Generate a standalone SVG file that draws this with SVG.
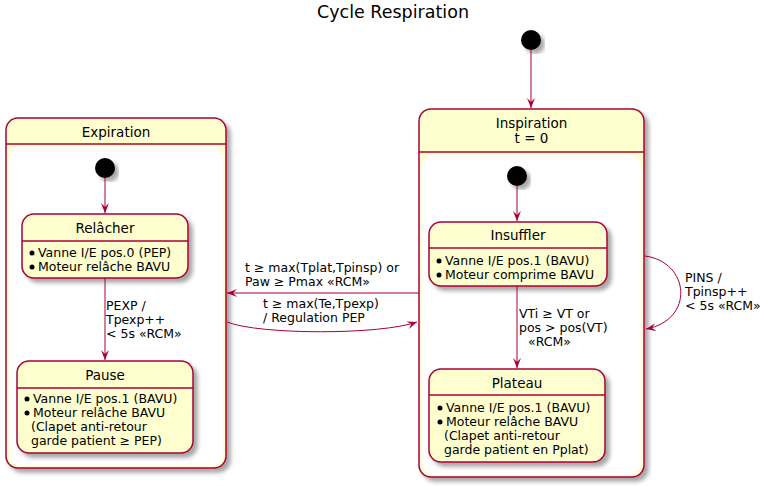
<svg xmlns="http://www.w3.org/2000/svg" width="774" height="486" viewBox="0 0 774 486">
<style>
text{font-family:"DejaVu Sans","Liberation Sans",sans-serif;fill:#000}
.ttl{font-size:17.5px}
.name{font-size:13.5px;text-anchor:middle}
.att{font-size:12.5px}
.lbl{font-size:12.5px}
.st{fill:#FEFECE;stroke:#A80036;stroke-width:1.5}
.div{stroke:#A80036;stroke-width:1.5;fill:none}
.inner{fill:#FFFFFF;stroke:none}
.bul{fill:#000}
.init{fill:#000}
.edge{stroke:#A80036;stroke-width:1;fill:none;marker-end:url(#ah)}
</style>
<defs>
<filter id="sh" x="-20%" y="-20%" width="140%" height="140%">
<feGaussianBlur in="SourceAlpha" stdDeviation="2"/>
<feOffset dx="4" dy="4" result="b"/>
<feComponentTransfer><feFuncA type="linear" slope="0.35"/></feComponentTransfer>
<feMerge><feMergeNode/><feMergeNode in="SourceGraphic"/></feMerge>
</filter>
<marker id="ah" viewBox="0 0 10 8" refX="10" refY="4" markerWidth="10" markerHeight="8" markerUnits="userSpaceOnUse" orient="auto">
<path d="M0,0 L10,4 L0,8 L4,4 Z" fill="#A80036"/>
</marker>
</defs>
<rect width="774" height="486" fill="#FFFFFF"/>
<text class="ttl" x="393" y="18" text-anchor="middle">Cycle Respiration</text>

<g id="start">
<circle class="init" cx="531" cy="40" r="10" filter="url(#sh)"/>
</g>

<g id="Expiration">
<rect class="st" x="6" y="118" width="220" height="350" rx="12" filter="url(#sh)"/>
<line class="div" x1="6" y1="144" x2="226" y2="144"/>
<rect class="inner" x="9" y="147" width="214" height="319" rx="12"/>
<text class="name" x="116" y="137">Expiration</text>
</g>

<g id="Inspiration">
<rect class="st" x="419" y="109" width="225" height="368" rx="12" filter="url(#sh)"/>
<line class="div" x1="419" y1="152" x2="644" y2="152"/>
<rect class="inner" x="422" y="155" width="219" height="320" rx="12"/>
<text class="name" x="531.5" y="128">Inspiration</text>
<text class="name" x="531.5" y="143">t = 0</text>
</g>

<g id="exp_start">
<circle class="init" cx="105" cy="168" r="10" filter="url(#sh)"/>
</g>

<g id="Relacher">
<rect class="st" x="22" y="214" width="166" height="64" rx="12" filter="url(#sh)"/>
<line class="div" x1="22" y1="241" x2="188" y2="241"/>
<text class="name" x="105" y="233">Relâcher</text>
<circle class="bul" cx="32" cy="253" r="2.5"/>
<text class="att" x="38" y="257">Vanne I/E pos.0 (PEP)</text>
<circle class="bul" cx="32" cy="267" r="2.5"/>
<text class="att" x="38" y="271">Moteur relâche BAVU</text>
</g>

<g id="Pause">
<rect class="st" x="17" y="361" width="176" height="92" rx="12" filter="url(#sh)"/>
<line class="div" x1="17" y1="388" x2="193" y2="388"/>
<text class="name" x="105" y="380">Pause</text>
<circle class="bul" cx="27" cy="399" r="2.5"/>
<text class="att" x="33" y="403">Vanne I/E pos.1 (BAVU)</text>
<circle class="bul" cx="27" cy="413" r="2.5"/>
<text class="att" x="33" y="417">Moteur relâche BAVU</text>
<text class="att" x="31" y="431">(Clapet anti-retour</text>
<text class="att" x="31" y="445">garde patient ≥ PEP)</text>
</g>

<g id="insp_start">
<circle class="init" cx="517" cy="176" r="10" filter="url(#sh)"/>
</g>

<g id="Insuffler">
<rect class="st" x="429" y="222" width="178" height="64" rx="12" filter="url(#sh)"/>
<line class="div" x1="429" y1="248" x2="607" y2="248"/>
<text class="name" x="518" y="240">Insuffler</text>
<circle class="bul" cx="439" cy="261" r="2.5"/>
<text class="att" x="445" y="265">Vanne I/E pos.1 (BAVU)</text>
<circle class="bul" cx="439" cy="275" r="2.5"/>
<text class="att" x="445" y="279">Moteur comprime BAVU</text>
</g>

<g id="Plateau">
<rect class="st" x="429" y="369" width="176" height="93" rx="12" filter="url(#sh)"/>
<line class="div" x1="429" y1="395" x2="605" y2="395"/>
<text class="name" x="517" y="388">Plateau</text>
<circle class="bul" cx="440" cy="408" r="2.5"/>
<text class="att" x="446" y="412">Vanne I/E pos.1 (BAVU)</text>
<circle class="bul" cx="440" cy="422" r="2.5"/>
<text class="att" x="446" y="426">Moteur relâche BAVU</text>
<text class="att" x="444" y="440">(Clapet anti-retour</text>
<text class="att" x="444" y="454">garde patient en Pplat)</text>
</g>

<g id="connectors">
<path class="edge" d="M531,50 L531,108"/>
<path class="edge" d="M105,178 L105,213"/>
<path class="edge" d="M105,278 L105,360"/>
<path class="edge" d="M517,186 L517,221"/>
<path class="edge" d="M517,286 L517,368"/>
<path class="edge" d="M419,293 L227,293"/>
<path class="edge" d="M227,322 C260,335 380,335 417,322"/>
<path class="edge" d="M645,256 C690,262 695,320 646,329"/>
<text class="lbl" x="106" y="310">PEXP /</text>
<text class="lbl" x="106" y="324">Tpexp++</text>
<text class="lbl" x="106" y="338">&lt; 5s «RCM»</text>
<text class="lbl" x="519" y="318">VTi ≥ VT or</text>
<text class="lbl" x="519" y="332">pos &gt; pos(VT)</text>
<text class="lbl" x="528" y="346">«RCM»</text>
<text class="lbl" x="245" y="272">t ≥ max(Tplat,Tpinsp) or</text>
<text class="lbl" x="245" y="286">Paw ≥ Pmax «RCM»</text>
<text class="lbl" x="263" y="308">t ≥ max(Te,Tpexp)</text>
<text class="lbl" x="263" y="322">/ Regulation PEP</text>
<text class="lbl" x="685" y="282">PINS /</text>
<text class="lbl" x="685" y="296">Tpinsp++</text>
<text class="lbl" x="685" y="310">&lt; 5s «RCM»</text>
</g>
</svg>
